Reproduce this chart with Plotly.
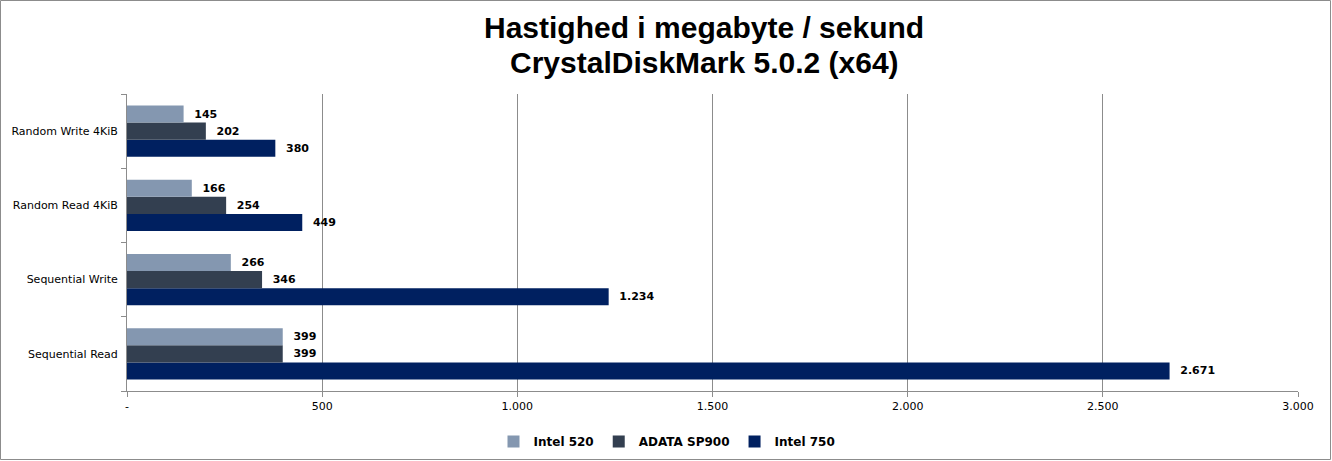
import plotly.graph_objects as go

categories = ["Sequential Read", "Sequential Write", "Random Read 4KiB", "Random Write 4KiB"]
intel520 = [399, 266, 166, 145]
adata = [399, 346, 254, 202]
intel750 = [2671, 1234, 449, 380]
series_names = ["Intel 520", "ADATA SP900", "Intel 750"]
colors = ["#8497B0", "#333F50", "#002060"]
tick_vals = [0, 500, 1000, 1500, 2000, 2500, 3000]
tick_text = ["-", "500", "1.000", "1.500", "2.000", "2.500", "3.000"]
title_lines = ["Hastighed i megabyte / sekund", "CrystalDiskMark 5.0.2 (x64)"]


def fmt(v):
    return "\u00a0\u00a0" + f"{v:,}".replace(",", ".")


fig = go.Figure()
# plotly puts the first horizontal trace at the bottom of a group
order = [(2, intel750), (1, adata), (0, intel520)]
for idx, vals in order:
    fig.add_trace(go.Bar(
        y=categories, x=vals, orientation="h", name=series_names[idx],
        marker=dict(color=colors[idx], line=dict(width=0)),
        text=[fmt(v) for v in vals], textposition="outside",
        textfont=dict(family="DejaVu Sans", size=11, color="#000000", weight="bold"),
        cliponaxis=False, legendrank=idx + 1,
    ))

W, H = 1332, 461
l, r, t, b = 127, 34, 94, 70
pw, ph = W - l - r, H - t - b


def px_x(p):
    return (p - l) / pw


def px_y(p):
    return (H - b - p) / ph


annotations = []
for line, ypix in zip(title_lines, [27, 63]):
    annotations.append(dict(
        text=line, xref="paper", yref="paper", x=px_x(704), y=px_y(ypix),
        xanchor="center", yanchor="middle", showarrow=False,
        font=dict(family="Liberation Sans", size=30, color="#000000", weight="bold"),
    ))

fig.update_layout(
    width=W, height=H,
    margin=dict(l=l, r=r, t=t, b=b, autoexpand=False),
    paper_bgcolor="white", plot_bgcolor="white",
    barmode="group", bargap=0.31, bargroupgap=0,
    xaxis=dict(
        range=[0, 3000], tickvals=tick_vals, ticktext=tick_text,
        showgrid=True, gridcolor="#8C8C8C", gridwidth=1,
        showline=True, linecolor="#8C8C8C", linewidth=1,
        ticks="outside", ticklen=5, tickcolor="#8C8C8C",
        tickfont=dict(family="DejaVu Sans", size=11, color="#000000"),
        zeroline=False, fixedrange=True, automargin=False,
    ),
    yaxis=dict(
        showline=True, linecolor="#8C8C8C", linewidth=1,
        ticks="outside", ticklen=5, tickcolor="#8C8C8C", tickson="boundaries",
        tickfont=dict(family="DejaVu Sans", size=11, color="#000000"),
        showgrid=False, fixedrange=True, ticklabelstandoff=6, automargin=False,
    ),
    legend=dict(
        orientation="h", x=px_x(667), xanchor="center",
        y=px_y(427), yanchor="top",
        font=dict(family="DejaVu Sans", size=12, color="#000000", weight="bold"),
        itemwidth=30, traceorder="normal",
    ),
    showlegend=True,
    annotations=annotations,
    shapes=[dict(
        type="rect", xref="paper", yref="paper",
        x0=px_x(0.5), x1=px_x(1330.5), y0=px_y(459.5), y1=px_y(0.5),
        line=dict(color="#8C8C8C", width=1), layer="below",
    )],
)

fig.write_html("out.html", config={"displayModeBar": False},
               post_script="document.body.style.margin='0';")
